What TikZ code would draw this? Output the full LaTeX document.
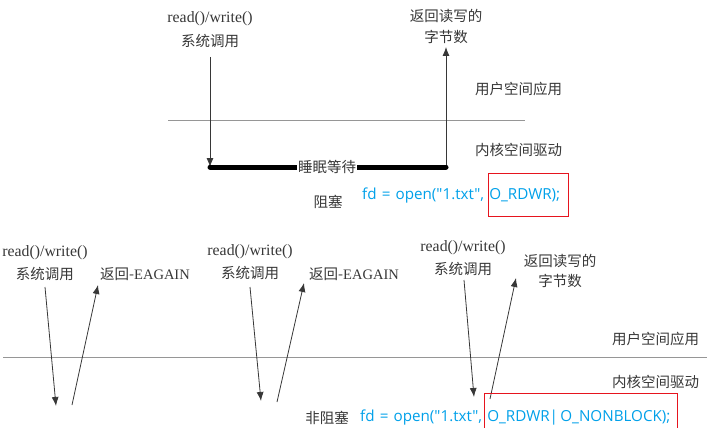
\documentclass[tikz,border=0pt]{standalone}
\usepackage{fontspec}
\setmainfont{Liberation Serif}
\newfontfamily\cjk{Noto Sans CJK SC}
\newfontfamily\codef[WordSpace=1.3]{Open Sans}
\usetikzlibrary{arrows.meta}
\definecolor{txtgray}{RGB}{55,55,55}
\definecolor{linegray}{RGB}{150,150,150}
\definecolor{codeblue}{RGB}{0,160,233}
\definecolor{boxred}{RGB}{230,20,30}
\tikzset{
  lbl/.style={inner sep=0pt, text=txtgray, font=\cjk\fontsize{14.5}{16}\selectfont},
  rwlbl/.style={inner sep=0pt, text=txtgray, font=\fontsize{15.8}{18}\selectfont},
  code/.style={inner sep=0pt, anchor=west, text=codeblue, font=\codef\fontsize{15.2}{17}\selectfont},
  arr/.style={draw=txtgray, line width=0.8pt, -{Latex[length=9pt,width=7pt]}},
  sep/.style={draw=linegray, line width=0.8pt},
  sleep/.style={draw=black, line width=5pt, line cap=round},
  redbox/.style={draw=boxred, line width=1pt}
}
\begin{document}
\begin{tikzpicture}[x=1pt,y=-1pt]
\useasboundingbox (0,0) rectangle (707,428);
% ---------- top: blocking ----------
\node[rwlbl] (rw1) at (210,19) {read()/write()};
\node[lbl] (sc1) at (210,41) {系统调用};
\node[lbl] (rb1) at (446,16) {返回读写的};
\node[lbl] (rb1b) at (446,37) {字节数};
\coordinate (d1s) at (210,57);
\coordinate (d1e) at (210,167);
\coordinate (u1s) at (446,167);
\coordinate (u1e) at (446,47);
\coordinate (h1a) at (168,120);
\coordinate (h1b) at (525,120);
\draw[sep] (h1a) -- (h1b);
\draw[arr] (d1s) -- (d1e);
\draw[arr] (u1s) -- (u1e);
\draw[sleep] (d1e) -- (u1s);
\node[lbl, fill=white, inner xsep=1pt, inner ysep=1pt] (sl) at (327,167) {睡眠等待};
\node[lbl, anchor=west] (us1) at (475,89) {用户空间应用};
\node[lbl, anchor=west] (ks1) at (475,150) {内核空间驱动};
\node[lbl] (blk) at (328,202) {阻塞};
\node[code] (c1) at (362,196) {fd = open("1.txt", O\_RDWR);};
\node[redbox, inner sep=0pt, minimum width=80pt, minimum height=43pt] (rb) at (528,194.5) {};
% ---------- bottom: non-blocking ----------
\coordinate (h2a) at (3,357);
\coordinate (h2b) at (707,357);
\draw[sep] (h2a) -- (h2b);
% group 1
\node[rwlbl] (rw2) at (45,253) {read()/write()};
\node[lbl] (sc2) at (45,274) {系统调用};
\node[lbl, anchor=west] (ea2) at (100,274) {返回-{\rmfamily EAGAIN}};
\coordinate (d2s) at (45,287);
\coordinate (d2e) at (56,406);
\coordinate (u2s) at (72,405);
\coordinate (u2e) at (98,285);
\draw[arr] (d2s) -- (d2e);
\draw[arr] (u2s) -- (u2e);
% group 2
\node[rwlbl] (rw3) at (250,252) {read()/write()};
\node[lbl] (sc3) at (250,273) {系统调用};
\node[lbl, anchor=west] (ea3) at (309,274) {返回-{\rmfamily EAGAIN}};
\coordinate (d3s) at (250,287);
\coordinate (d3e) at (261,401);
\coordinate (u3s) at (277,402);
\coordinate (u3e) at (304,283);
\draw[arr] (d3s) -- (d3e);
\draw[arr] (u3s) -- (u3e);
% group 3
\node[rwlbl] (rw4) at (463,248) {read()/write()};
\node[lbl] (sc4) at (463,269) {系统调用};
\node[lbl] (rb4) at (560,261) {返回读写的};
\node[lbl] (rb4b) at (560,281) {字节数};
\coordinate (d4s) at (464,280);
\coordinate (d4e) at (474,397);
\coordinate (u4s) at (490,399);
\coordinate (u4e) at (516,278);
\draw[arr] (d4s) -- (d4e);
\draw[arr] (u4s) -- (u4e);
\node[lbl, anchor=west] (us2) at (612,339) {用户空间应用};
\node[lbl, anchor=west] (ks2) at (612,382) {内核空间驱动};
\node[lbl] (nblk) at (327,418) {非阻塞};
\node[code] (c2) at (360,418) {fd = open("1.txt", O\_RDWR|\hspace{0.15em}O\_NONBLOCK);};
\coordinate (r2a) at (484,393);
\coordinate (r2b) at (677,432);
\draw[redbox] (r2a) rectangle (r2b);
\end{tikzpicture}
\end{document}
